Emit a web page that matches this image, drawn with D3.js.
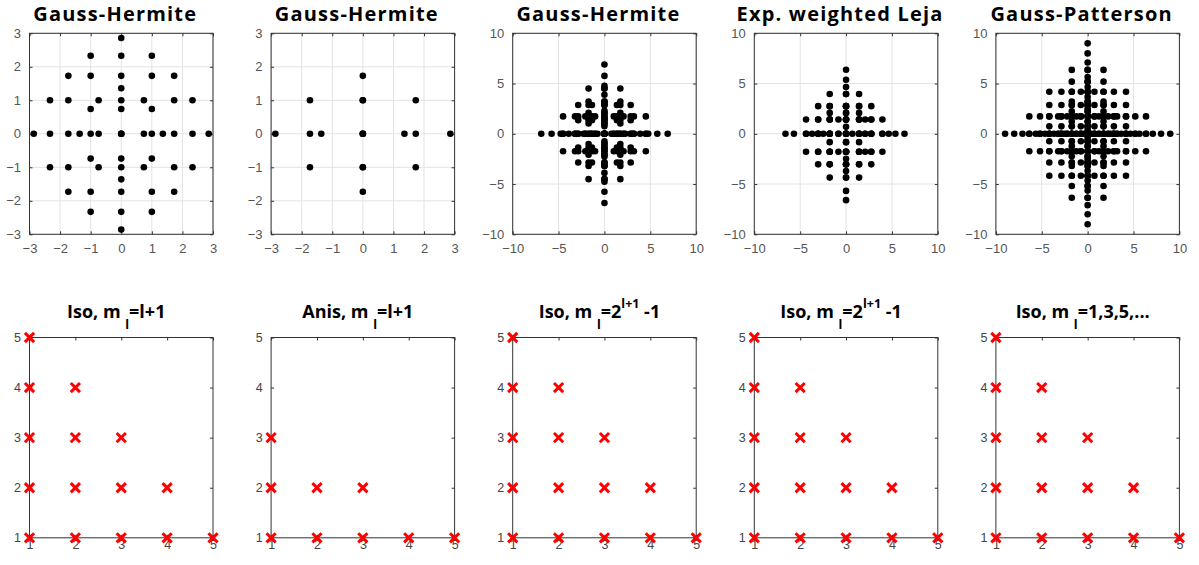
<!DOCTYPE html>
<html>
<head>
<meta charset="utf-8">
<script src="https://cdn.jsdelivr.net/npm/d3@7"></script>
<style>
  body { margin: 0; background: #fff; }
  .title { font-family: "Open Sans", sans-serif; font-weight: 700; fill: #000; }
  .tick text { font-family: "Liberation Sans", Arial, sans-serif; }
</style>
</head>
<body>
<div id="chart"></div>
<script>
// 1D Gauss-Hermite nodes (standard normal)
const gh1 = [0]
const gh2 = [-1, 1]
const gh3 = [-1.73, 0, 1.73]
const gh4 = [-2.33, -0.74, 0.74, 2.33]
const gh5 = [-2.86, -1.36, 0, 1.36, 2.86]
const gh9 = [-4.51, -3.21, -2.08, -1.02, 0, 1.02, 2.08, 3.21, 4.51]
const gh17 = [-6.89, -5.76, -4.77, -3.89, -3.07, -2.28, -1.51, -0.75, 0, 0.75, 1.51, 2.28, 3.07, 3.89, 4.77, 5.76, 6.89]

// weighted Leja sequence (nested, in Leja order)
const leja = [0, 1.42, -1.78, 2.75, -3.04, -0.83, 2.08, 3.96, -4.36, 0.69, -2.48, -3.70, 4.65, -5.68, 5.38, 6.37, -6.60]
const lejaCount = [1, 3, 5, 9, 17]

// nested Gauss-Patterson/Genz-Keister type nodes
const gp1 = [0]
const gp3 = [-1.73, 0, 1.73]
const gp9 = [-4.18, -2.86, -1.73, -0.74, 0, 0.74, 1.73, 2.86, 4.18]
const gp19 = [-6.36, -5.19, -3.21, -2.23, -1.23, 1.23, 2.23, 3.21, 5.19, 6.36]
const gp35 = [-9.0, -8.0, -7.1, -5.65, -4.65, -3.67, -2.52, -0.39, 0.39, 2.52, 3.67, 4.65, 5.65, 7.1, 8.0, 9.0]

// tensor grids (level in x, level in y) used for each top panel
const gridsIso = [[1, 5], [2, 4], [3, 3], [4, 2], [5, 1], [1, 4], [2, 3], [3, 2], [4, 1]]
const gridsAnis = [[5, 1], [3, 2], [1, 3], [3, 1], [1, 2]]
const gridsNested = [[1, 5], [2, 4], [3, 3], [4, 2], [5, 1]]

// index sets of the bottom row
const isoSet = [[1, 1], [1, 2], [1, 3], [1, 4], [1, 5], [2, 1], [2, 2], [2, 3], [2, 4],
                [3, 1], [3, 2], [3, 3], [4, 1], [4, 2], [5, 1]]
const anisSet = [[1, 1], [1, 2], [1, 3], [2, 1], [2, 2], [3, 1], [3, 2], [4, 1], [5, 1]]

const topTitles = ["Gauss-Hermite", "Gauss-Hermite", "Gauss-Hermite", "Exp. weighted Leja", "Gauss-Patterson"]
const ticksSmall = [-3, -2, -1, 0, 1, 2, 3]
const ticksLarge = [-10, -5, 0, 5, 10]
const ticksIdx = [1, 2, 3, 4, 5]

const lejaLevels = lejaCount.map(n => leja.slice(0, n))
const gpLevels = [gp1, gp3, gp9, gp9.concat(gp19), gp9.concat(gp19, gp35)]

const topPanels = [
  {title: topTitles[0], ticks: ticksSmall, levels: [gh1, gh2, gh3, gh4, gh5], grids: gridsIso},
  {title: topTitles[1], ticks: ticksSmall, levels: [gh1, gh2, gh3, gh4, gh5], grids: gridsAnis},
  {title: topTitles[2], ticks: ticksLarge, levels: [gh1, gh3, gh5, gh9, gh17], grids: gridsIso},
  {title: topTitles[3], ticks: ticksLarge, levels: lejaLevels, grids: gridsNested},
  {title: topTitles[4], ticks: ticksLarge, levels: gpLevels, grids: gridsNested}
]

// bottom titles: [text, kind]
const bottomTitles = [
  [["Iso, m ", ""], ["l", "sub"], ["=l+1", ""]],
  [["Anis, m ", ""], ["l", "sub"], ["=l+1", ""]],
  [["Iso, m ", ""], ["l", "sub"], ["=2", ""], ["l+1", "sup"], [" -1", ""]],
  [["Iso, m ", ""], ["l", "sub"], ["=2", ""], ["l+1", "sup"], [" -1", ""]],
  [["Iso, m ", ""], ["l", "sub"], ["=1,3,5,...", ""]]
]
const bottomSets = [isoSet, anisSet, isoSet, isoSet, isoSet]

const LEFT = 29.5, STEP = 241.6, PW = 183.5
const TOP_T = 33.3, TOP_B = 234.3
const BOT_T = 337.5, BOT_B = 537.8

const fmt = d3.format("d")

const svg = d3.select("#chart").append("svg")
  .attr("width", 1199)
  .attr("height", 565)

function styleAxis(sel, color, size) {
  sel.select(".domain").remove()
  sel.selectAll(".tick line").attr("stroke", "#333")
  sel.selectAll(".tick text")
    .attr("fill", color)
    .style("font-size", size)
}

function drawAxes(g, x, y, ticks, yb, yt, padX, padY, color, size) {
  g.append("g").attr("transform", `translate(0,${yb})`)
    .call(d3.axisBottom(x).tickValues(ticks).tickFormat(fmt).tickSizeInner(-3).tickSizeOuter(0).tickPadding(padX))
    .call(styleAxis, color, size)
  g.append("g").attr("transform", `translate(${x.range()[0]},0)`)
    .call(d3.axisLeft(y).tickValues(ticks).tickFormat(fmt).tickSizeInner(-3).tickSizeOuter(0).tickPadding(padY))
    .call(styleAxis, color, size)
  g.append("g").attr("transform", `translate(0,${yt})`)
    .call(d3.axisTop(x).tickValues(ticks).tickSizeInner(-3).tickSizeOuter(0).tickFormat(""))
    .call(styleAxis, color, size)
  g.append("g").attr("transform", `translate(${x.range()[1]},0)`)
    .call(d3.axisRight(y).tickValues(ticks).tickSizeInner(-3).tickSizeOuter(0).tickFormat(""))
    .call(styleAxis, color, size)
  g.append("rect")
    .attr("x", x.range()[0]).attr("y", yt)
    .attr("width", x.range()[1] - x.range()[0]).attr("height", yb - yt)
    .attr("fill", "none").attr("stroke", "#333").attr("stroke-width", 1)
}

// ---- top row: sparse grid points
topPanels.forEach(function(p, k) {
  const x0 = LEFT + k * STEP
  const dom = d3.extent(p.ticks)
  const x = d3.scaleLinear().domain(dom).range([x0, x0 + PW])
  const y = d3.scaleLinear().domain(dom).range([TOP_B, TOP_T])
  const g = svg.append("g")

  g.selectAll(".gx").data(p.ticks).enter().append("line")
    .attr("x1", d => x(d)).attr("x2", d => x(d))
    .attr("y1", TOP_T).attr("y2", TOP_B)
    .attr("stroke", "#e3e3e3")
  g.selectAll(".gy").data(p.ticks).enter().append("line")
    .attr("x1", x0).attr("x2", x0 + PW)
    .attr("y1", d => y(d)).attr("y2", d => y(d))
    .attr("stroke", "#e3e3e3")

  drawAxes(g, x, y, p.ticks, TOP_B, TOP_T, 9.5, 8.5, "#555", "13px")

  const pts = []
  p.grids.forEach(function(gr) {
    p.levels[gr[0] - 1].forEach(function(a) {
      p.levels[gr[1] - 1].forEach(function(b) { pts.push([a, b]) })
    })
  })
  g.selectAll("circle").data(pts).enter().append("circle")
    .attr("cx", d => x(d[0]))
    .attr("cy", d => y(d[1]))
    .attr("r", 3.3)
    .attr("fill", "#000")

  svg.append("text")
    .attr("class", "title")
    .attr("x", x0 + PW / 2 - 6)
    .attr("y", 20.7)
    .attr("text-anchor", "middle")
    .style("font-size", "20px")
    .style("letter-spacing", "1.2px")
    .text(p.title)
})

// ---- bottom row: index sets
bottomSets.forEach(function(set, k) {
  const x0 = LEFT + k * STEP
  const x = d3.scaleLinear().domain([1, 5]).range([x0, x0 + PW])
  const y = d3.scaleLinear().domain([1, 5]).range([BOT_B, BOT_T])
  const g = svg.append("g")

  drawAxes(g, x, y, ticksIdx, BOT_B, BOT_T, 2, 8.5, "#444", "12.5px")

  g.selectAll(".mk").data(set).enter().append("path")
    .attr("transform", d => `translate(${x(d[0])},${y(d[1])})`)
    .attr("d", "M-4.6,-4.6L4.6,4.6M-4.6,4.6L4.6,-4.6")
    .attr("stroke", "#ff0000")
    .attr("stroke-width", 3)
    .attr("fill", "none")

  const t = svg.append("text")
    .attr("class", "title")
    .attr("x", x0 + PW / 2 - 5)
    .attr("y", 318)
    .attr("text-anchor", "middle")
    .style("font-size", "18px")
  let shift = 0
  bottomTitles[k].forEach(function(part) {
    const target = part[1] === "sub" ? 11 : part[1] === "sup" ? -10 : 0
    t.append("tspan")
      .attr("dy", target - shift)
      .style("font-size", part[1] ? "12.5px" : "18px")
      .text(part[0])
    shift = target
  })
})
</script>
</body>
</html>
